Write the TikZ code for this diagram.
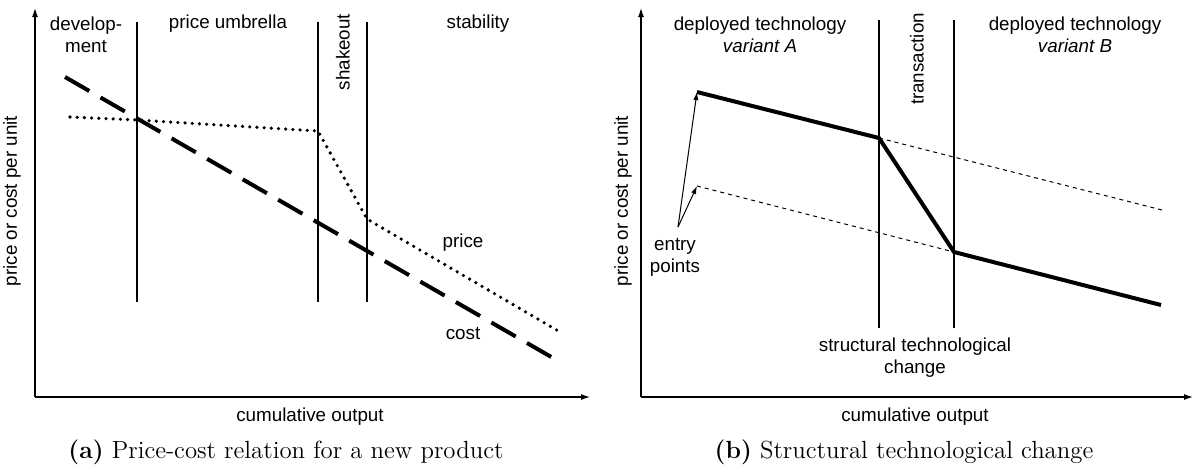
\documentclass[tikz,border=0pt]{standalone}
\usepackage{fontspec}
\usepackage{tikz}
\usetikzlibrary{arrows.meta}
\newfontfamily\arialfont{Liberation Sans}
\newcommand\lblfont{\arialfont\fontsize{9.4}{11}\selectfont}
\newcommand\captfont{\fontsize{12.4}{15}\selectfont}
\tikzset{
  lbl/.style   = {font=\lblfont, inner sep=0pt, align=center},
  vlbl/.style  = {lbl, rotate=90},
  capt/.style  = {font=\captfont, inner sep=0pt},
  axis/.style  = {-{Latex[length=4.5pt,width=3pt]}, line width=0.6pt},
  phase/.style = {line width=0.55pt},
  cost/.style  = {line width=2pt, dash pattern=on 14pt off 6.5pt},
  price/.style = {line width=1.8pt, line cap=round, dash pattern=on 0pt off 3.6pt},
  tech/.style  = {line width=2pt, line join=miter},
  ext/.style   = {line width=0.5pt, dash pattern=on 2pt off 2pt},
  entry/.style = {-{Latex[length=4pt,width=2.6pt]}, line width=0.5pt},
}

\begin{document}
\begin{tikzpicture}[x=0.5pt, y=-0.5pt]
  \useasboundingbox (0,0) rectangle (1196,468);

  % --- (a) price-cost relation ---
  \coordinate (oA) at (35,397);
  \coordinate (yA) at (35,8);
  \coordinate (xA) at (590,397);
  \draw[axis] (oA) -- (yA);
  \draw[axis] (oA) -- (xA);

  \coordinate (dev) at (137,22);   \coordinate (devb) at (137,302);
  \coordinate (umb) at (318,22);   \coordinate (umbb) at (318,302);
  \coordinate (shk) at (367,22);   \coordinate (shkb) at (367,302);
  \draw[phase] (dev) -- (devb);
  \draw[phase] (umb) -- (umbb);
  \draw[phase] (shk) -- (shkb);

  \node[lbl] (devlbl) at (86,35) {develop-\\ment};
  \node[lbl] (umblbl) at (228,24) {price umbrella};
  \node[vlbl] (shklbl) at (343,52) {shakeout};
  \node[lbl] (stblbl) at (478,24) {stability};

  \coordinate (c0) at (65,77);
  \coordinate (c1) at (560,362);
  \draw[cost] (c0) -- (c1);

  \coordinate (p0) at (70,117);
  \coordinate (p1) at (137,120);
  \coordinate (p2) at (318,131);
  \coordinate (p3) at (367,219);
  \coordinate (p4) at (560,332);
  \draw[price] (p0) -- (p1) -- (p2) -- (p3) -- (p4);

  \node[lbl] (pricelbl) at (463,243) {price};
  \node[lbl] (costlbl) at (463,334) {cost};
  \node[vlbl] (yAlbl) at (12,201) {price or cost per unit};
  \node[lbl] (xAlbl) at (310,417) {cumulative output};
  \node[capt] (captA) at (286,452) {\textbf{(a)} Price-cost relation for a new product};

  % --- (b) structural technological change ---
  \coordinate (oB) at (641,397);
  \coordinate (yB) at (641,8);
  \coordinate (xB) at (1193,397);
  \draw[axis] (oB) -- (yB);
  \draw[axis] (oB) -- (xB);

  \coordinate (tr) at (879,20);   \coordinate (trb) at (879,328);
  \coordinate (vb) at (954,20);   \coordinate (vbb) at (954,328);
  \draw[phase] (tr) -- (trb);
  \draw[phase] (vb) -- (vbb);

  \node[lbl] (varA) at (760,35) {deployed technology\\\itshape variant A};
  \node[vlbl] (trlbl) at (917,59) {transaction};
  \node[lbl] (varB) at (1075,35) {deployed technology\\\itshape variant B};

  \coordinate (q0) at (697,92);
  \coordinate (q1) at (879,138);
  \coordinate (q2) at (954,252);
  \coordinate (q3) at (1161,305);
  \coordinate (u1) at (1162,210);
  \coordinate (l0) at (697,186);
  \draw[ext] (q1) -- (u1);
  \draw[ext] (l0) -- (q2);
  \draw[tech] (q0) -- (q1) -- (q2) -- (q3);

  \node[lbl] (entlbl) at (675,257) {entry\\points};
  \coordinate (e0) at (678,227);
  \draw[entry] (e0) -- (q0);
  \draw[entry] (e0) -- (l0);

  \node[lbl] (stclbl) at (915,358) {structural technological\\change};
  \node[vlbl] (yBlbl) at (623,201) {price or cost per unit};
  \node[lbl] (xBlbl) at (915,417) {cumulative output};
  \node[capt] (captB) at (904,452) {\textbf{(b)} Structural technological change};
\end{tikzpicture}
\end{document}
